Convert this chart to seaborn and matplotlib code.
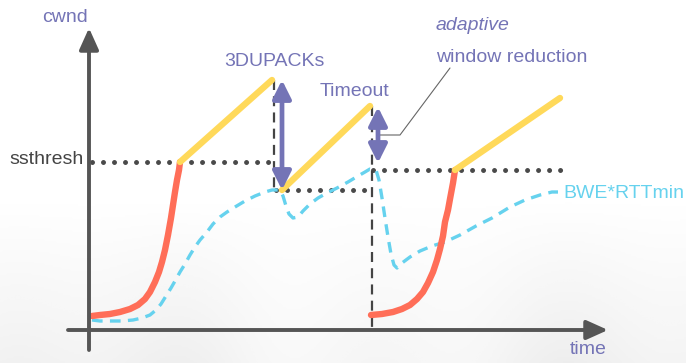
import numpy as np
import pandas as pd
import matplotlib
matplotlib.use("Agg")
import matplotlib.pyplot as plt
from matplotlib import font_manager
import seaborn as sns

# ---------------- data (time, cwnd) ----------------
slow1_t = [3, 11, 21, 31, 41, 49, 56, 61, 66, 70, 73, 76, 79, 82, 84, 86, 88, 90, 91]
slow1_w = [14, 15, 16, 18, 21, 25, 31, 38, 48, 58, 68, 80, 95, 112, 125, 138, 150, 160, 168]

cong1_t = [91, 183]
cong1_w = [168, 250]
cong2_t = [193, 281]
cong2_w = [140, 224]
cong3_t = [366, 471]
cong3_w = [160, 232]

slow2_t = [282, 293, 304, 313, 321, 328, 334, 339, 344, 348, 351, 354, 356, 359, 361, 364, 366]
slow2_w = [15, 16, 18, 21, 25, 31, 38, 47, 58, 70, 81, 94, 108, 120, 131, 147, 160]

bwe_t = [3, 11, 21, 33, 44, 53, 61, 67, 72, 77, 82, 86, 91, 96, 101, 106, 111, 118, 124,
         131, 138, 146, 156, 166, 176, 183, 191, 194, 197, 200, 204, 209, 214, 221,
         229, 238, 248, 259, 269, 276, 281, 287, 290, 293, 296, 299, 302, 305, 308,
         313, 321, 331, 343, 356, 371, 387, 403, 421, 436, 451, 463, 469]
bwe_w = [10, 9, 9, 9, 10, 12, 15, 20, 26, 34, 42, 49, 58, 66, 75, 83, 90, 98, 106,
         113, 118, 123, 129, 134, 138, 140, 140, 134, 124, 116, 112, 113, 119, 126,
         132, 137, 142, 148, 154, 158, 161, 160, 150, 132, 112, 93, 76, 65, 62,
         67, 73, 79, 84, 88, 95, 104, 112, 123, 130, 135, 138, 138]

ssthresh1 = 168
ssthresh2 = 140
ssthresh3 = 160

purple = "#7474b6"
cyan = "#66d2ee"
red = "#ff6e58"
yellow = "#ffd95a"
axcol = "#555555"
dotcol = "#4a4a4a"

sns.set_theme(style="white")
names = {f.name for f in font_manager.fontManager.ttflist}
if "Liberation Sans Narrow" in names:
    fam = ["Liberation Sans Narrow", "DejaVu Sans"]
    fs = 16.5
else:
    fam = ["Liberation Sans", "DejaVu Sans"]
    fs = 14
plt.rcParams["font.family"] = fam

fig = plt.figure(figsize=(6.86, 3.63), dpi=100)
ax = fig.add_axes([0, 0, 1, 1])
ax.set_xlim(-89, 597)
ax.set_ylim(-33, 330)
ax.axis("off")

# subtle cloudy background near the bottom
H, W = 200, 400
yy = np.linspace(0, 1, H)[:, None]
xx = np.linspace(0, 1, W)[None, :]
bg = np.clip((yy - 0.55) / 0.45, 0, 1) * (0.09 + 0.03 * np.sin(xx * 9) + 0.02 * np.cos(xx * 23))
bg = np.clip(bg, 0, 1)
ax.imshow(bg, extent=(-89, 597, -33, 330), origin="upper", cmap="Greys",
          vmin=0, vmax=1, aspect="auto", zorder=0, interpolation="bilinear")

def dline(t, w, **kw):
    df = pd.DataFrame({"t": t, "w": w})
    sns.lineplot(data=df, x="t", y="w", ax=ax, sort=False, estimator=None, **kw)
    return ax.lines[-1]

# ssthresh dotted lines
for (x0, x1, y) in [(3, 185, ssthresh1), (187, 281, ssthresh2), (284, 472, ssthresh3)]:
    l = dline([x0, x1], [y, y], color=dotcol, lw=3.6, zorder=3)
    l.set_linestyle((0, (0.001, 2.2)))
    l.set_dash_capstyle("round")

# dashed vertical lines
l = dline([185, 185], [cong1_w[1], ssthresh2], color="#444444", lw=1.6, zorder=3)
l.set_linestyle((0, (4.5, 2.8)))
l = dline([283, 283], [cong2_w[1], 0], color="#444444", lw=1.6, zorder=3)
l.set_linestyle((0, (4.5, 2.8)))

# BWE*RTTmin dashed
l = dline(bwe_t, bwe_w, color=cyan, lw=2.4, zorder=4)
l.set_linestyle((0, (3.2, 2.2)))
l.set_solid_joinstyle("round")

# slow start (red)
for t, w in [(slow1_t, slow1_w), (slow2_t, slow2_w)]:
    l = dline(t, w, color=red, lw=4.6, zorder=5)
    l.set_solid_joinstyle("round")
# congestion avoidance (yellow)
for t, w in [(cong1_t, cong1_w), (cong2_t, cong2_w), (cong3_t, cong3_w)]:
    dline(t, w, color=yellow, lw=4.6, zorder=5)

# axes arrows
ax.annotate("", xy=(0, 302), xytext=(0, -20),
            arrowprops=dict(arrowstyle="-|>,head_length=1.0,head_width=0.45",
                            mutation_scale=13, lw=2.8, color=axcol,
                            shrinkA=0, shrinkB=0), zorder=6)
ax.annotate("", xy=(519, 0), xytext=(-21, 0),
            arrowprops=dict(arrowstyle="-|>,head_length=1.0,head_width=0.45",
                            mutation_scale=13, lw=2.8, color=axcol,
                            shrinkA=0, shrinkB=0), zorder=6)

# purple double arrows
for x, y0, y1 in [(193, 140, 250), (289, 167, 223)]:
    ax.annotate("", xy=(x, y1), xytext=(x, y0),
                arrowprops=dict(arrowstyle="<|-|>,head_length=1.1,head_width=0.55",
                                mutation_scale=10, lw=3.4, color=purple,
                                shrinkA=0, shrinkB=0), zorder=7)

# leader line for adaptive window reduction
ax.plot([361, 311, 290], [262, 195, 195], color="#666666", lw=0.8, zorder=6)

ax.text(-24, 312, "cwnd", color=purple, fontsize=fs, ha="center", va="center")
ax.text(499, -20, "time", color=purple, fontsize=fs, ha="center", va="center")
ax.text(-42, 170, "ssthresh", color="#444444", fontsize=fs, ha="center", va="center")
ax.text(185, 268, "3DUPACKs", color=purple, fontsize=fs, ha="center", va="center")
ax.text(265, 238, "Timeout", color=purple, fontsize=fs, ha="center", va="center")
ax.text(384, 305, "adaptive", color=purple, fontsize=fs, style="italic",
        ha="center", va="center")
ax.text(423, 273, "window reduction", color=purple, fontsize=fs,
        ha="center", va="center")
ax.text(474, 137, "BWE*RTTmin", color=cyan, fontsize=fs, ha="left", va="center")

fig.savefig("out.png", dpi=100)
